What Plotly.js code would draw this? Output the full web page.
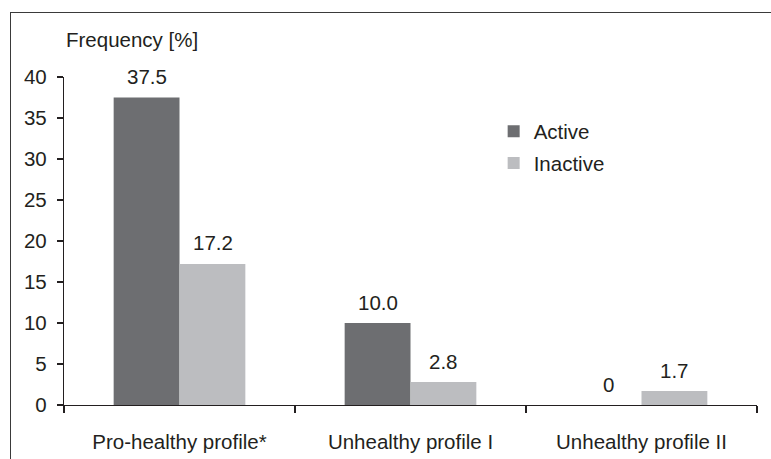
<!DOCTYPE html>
<html>
<head>
<meta charset="utf-8">
<script src="https://cdn.plot.ly/plotly-3.0.1.min.js"></script>
<style>
  html, body { margin: 0; padding: 0; background: #fff; }
  #wrap { position: relative; width: 771px; height: 459px; overflow: hidden; }
  #chart { width: 771px; height: 459px; }
  #frame { position: absolute; left: 10px; top: 12px; width: 800px; height: 500px;
           border-left: 1.5px solid #3a3a3a; border-top: 1.5px solid #3a3a3a; pointer-events: none; }
</style>
</head>
<body>
<div id="wrap">
  <div id="chart"></div>
  <div id="frame"></div>
</div>
<script>
const categories = ["Pro-healthy profile*", "Unhealthy profile I", "Unhealthy profile II"];
const activeValues = [37.5, 10.0, 0];
const inactiveValues = [17.2, 2.8, 1.7];
const activeLabels = ["37.5", "10.0", "0"];
const inactiveLabels = ["17.2", "2.8", "1.7"];
const yTicks = [0, 5, 10, 15, 20, 25, 30, 35, 40];

const FONT = "Liberation Sans, Arial, Helvetica, sans-serif";
const TXT = "#231f20";
const FS = 20.5;

const traces = [
  { type: "bar", name: "Active", x: categories, y: activeValues,
    marker: { color: "#6d6e71" }, legendgroup: "a", hoverinfo: "none" },
  { type: "bar", name: "Inactive", x: categories, y: inactiveValues,
    marker: { color: "#bcbdc0" }, legendgroup: "b", hoverinfo: "none" }
];

const annotations = [];
categories.forEach((c, i) => {
  annotations.push({ x: c, y: activeValues[i], xref: "x", yref: "y", text: activeLabels[i],
    showarrow: false, yanchor: "middle", xanchor: "center", xshift: -33, yshift: 21,
    font: { family: FONT, size: FS, color: TXT } });
  annotations.push({ x: c, y: inactiveValues[i], xref: "x", yref: "y", text: inactiveLabels[i],
    showarrow: false, yanchor: "middle", xanchor: "center", xshift: 33, yshift: 21,
    font: { family: FONT, size: FS, color: TXT } });
});
annotations.push({ x: 0, y: 1.113, xref: "paper", yref: "paper", text: "Frequency [%]",
  showarrow: false, xanchor: "left", yanchor: "middle",
  font: { family: FONT, size: FS, color: TXT } });

const layout = {
  width: 771, height: 459,
  margin: { l: 64, r: 14, t: 77, b: 54 },
  paper_bgcolor: "#fff", plot_bgcolor: "#fff",
  font: { family: FONT, size: FS, color: TXT },
  barmode: "group", bargap: 0.43, bargroupgap: 0,
  showlegend: true,
  legend: { x: 0.62, y: 0.895, xanchor: "left", yanchor: "top",
            traceorder: "grouped", tracegroupgap: 2,
            font: { family: FONT, size: FS, color: TXT }, bgcolor: "rgba(0,0,0,0)" },
  xaxis: { type: "category", showgrid: false, zeroline: false,
           showline: true, linecolor: "#231f20", linewidth: 1.2,
           ticks: "outside", tickson: "boundaries", ticklen: 7, tickcolor: "#231f20", tickwidth: 1.2,
           ticklabelstandoff: 18, tickfont: { family: FONT, size: FS, color: TXT }, fixedrange: true },
  yaxis: { range: [0, 40], tickvals: yTicks, showgrid: false, zeroline: false,
           showline: true, linecolor: "#231f20", linewidth: 1.2,
           ticks: "outside", ticklen: 6, tickcolor: "#231f20", tickwidth: 1.2,
           ticklabelstandoff: 6, tickfont: { family: FONT, size: FS, color: TXT }, fixedrange: true },
  annotations: annotations
};

Plotly.newPlot("chart", traces, layout, { displayModeBar: false, staticPlot: true });
</script>
</body>
</html>
